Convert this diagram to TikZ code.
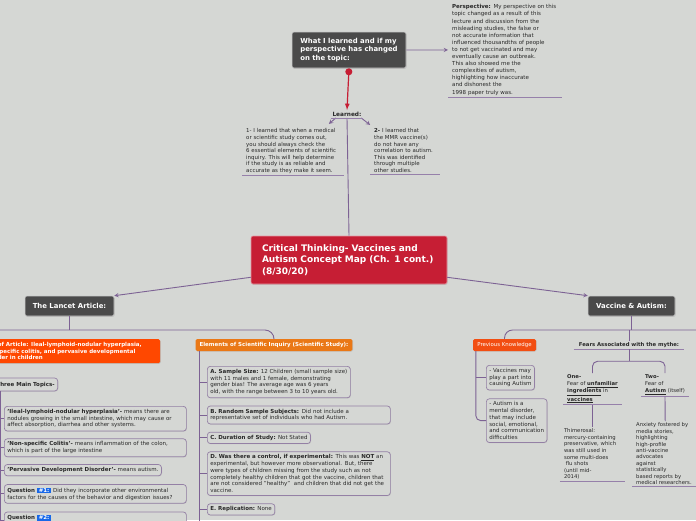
\documentclass[tikz,border=0pt]{standalone}
\usepackage{fontspec}
\setmainfont{DejaVu Sans}
\usetikzlibrary{shapes.geometric, arrows, positioning, shadows, calc}
\definecolor{bgcolor}{RGB}{213,215,212}
\definecolor{linecolor}{RGB}{125,98,148}
\definecolor{ulinecolor}{RGB}{150,128,170}
\definecolor{rootcolor}{RGB}{198,30,52}
\definecolor{topiccolor}{RGB}{74,74,74}
\definecolor{titlecolor}{RGB}{255,72,0}
\definecolor{elemcolor}{RGB}{234,120,22}
\definecolor{prevcolor}{RGB}{242,78,18}
\definecolor{boxborder}{RGB}{148,128,165}
\definecolor{badgecolor}{RGB}{24,104,232}
\definecolor{textcolor}{RGB}{40,40,40}
\newcommand{\qbadge}[1]{{\setlength{\fboxsep}{0.9pt}\colorbox{badgecolor}{\textcolor{white}{\bfseries\,#1\,}}}}

\begin{document}
\begin{tikzpicture}[
    x=1pt, y=-1pt,
    root/.style={rectangle, draw=white!55!rootcolor, line width=0.6pt, fill=rootcolor, rounded corners=2pt, text=white, align=left, font=\bfseries\fontsize{9}{11.5}\selectfont, text width=174pt, inner xsep=11pt, minimum height=48pt, drop shadow={shadow xshift=0.6pt, shadow yshift=-0.8pt, opacity=0.3}},
    topic/.style={rectangle, draw=white!80!black, line width=0.6pt, fill=topiccolor, rounded corners=2pt, text=white, align=left, font=\bfseries\fontsize{6.9}{8.5}\selectfont, drop shadow={shadow xshift=0.6pt, shadow yshift=-0.8pt, opacity=0.3}},
    subtopic/.style={rectangle, rounded corners=1.5pt, text=white, align=left, inner xsep=4pt, inner ysep=2pt, font=\bfseries\fontsize{5.5}{6.6}\selectfont, drop shadow={shadow xshift=0.6pt, shadow yshift=-0.6pt, opacity=0.25}},
    leaf/.style={rectangle, draw=boxborder, line width=0.7pt, fill=bgcolor, rounded corners=3pt, text=textcolor, align=left, inner xsep=3pt, inner ysep=3pt, font=\fontsize{5.5}{6.7}\selectfont, drop shadow={shadow xshift=0.6pt, shadow yshift=-0.6pt, opacity=0.25}},
    note/.style={text=textcolor, align=left, inner xsep=4pt, inner ysep=1.5pt, font=\fontsize{5.45}{6.6}\selectfont},
    link/.style={draw=linecolor, line width=0.9pt},
    arrow/.style={link, ->, >=stealth},
    uline/.style={draw=ulinecolor, line width=0.8pt}
]
    \path[use as bounding box] (0,0) rectangle (696,520);
    \clip (0,0) rectangle (696,520);
    \fill[bgcolor] (0,0) rectangle (696,520);

    % Central topic
    \node[root] (root) at (349,260) {Critical Thinking- Vaccines and\\Autism Concept Map (Ch. 1 cont.)\\(8/30/20)};

    % What I learned
    \node[topic, minimum width=114pt, minimum height=36pt] (learn) at (349,50) {What I learned and if my\\perspective has changed\\on the topic:};
    \node[note, anchor=north west, text width=106pt, font=\fontsize{5.5}{7.1}\selectfont] (persp) at (448,3) {
        \textbf{Perspective:} My perspective on this\\
        topic changed as a result of this\\
        lecture and discussion from the\\
        misleading studies, the false or\\
        not accurate information that\\
        influenced thousandths of people\\
        to not get vaccinated and may\\
        eventually cause an outbreak.\\
        This also showed me the\\
        complexities of autism,\\
        highlighting how inaccurate\\
        and dishonest the\\
        1998 paper truly was.};
    \node[note, font=\bfseries\fontsize{5.8}{6.5}\selectfont, inner xsep=1.5pt] (learned) at (347,114) {Learned:};
    \node[note, anchor=north west, text width=94pt] (lrnone) at (242,127) {
        1- I learned that when a medical\\
        or scientific study comes out,\\
        you should always check the\\
        6 essential elements of scientific\\
        inquiry. This will help determine\\
        if the study is as reliable and\\
        accurate as they make it seem.};
    \node[note, anchor=north west, text width=62pt] (lrntwo) at (370,127) {
        \textbf{2-} I learned that\\
        the MMR vaccine(s)\\
        do not have any\\
        correlation to autism.\\
        This was identified\\
        through multiple\\
        other studies.};

    \draw[draw=rootcolor, line width=1.2pt, *->, >=latex] (learn.south) -- (learned.north);
    \draw[arrow] (learn.east) -- (persp.west);
    \draw[link] (learned.south) -- (root.north);
    \draw[arrow] ([xshift=5pt]learned.south west) -- +(-7,6);
    \draw[arrow] ([xshift=-2pt]learned.south east) -- +(9,7);
    \draw[uline] (learned.south west) -- (learned.south east);
    \draw[uline] (persp.south west) -- (persp.south east);
    \draw[uline] (lrnone.south west) -- (lrnone.south east);
    \draw[uline] (lrntwo.south west) -- (lrntwo.south east);

    % Main branches
    \node[topic, minimum width=89pt, minimum height=20pt] (lancet) at (69.5,306) {The Lancet Article:};
    \node[topic, minimum width=87pt, minimum height=20pt] (vaccine) at (631.5,306) {Vaccine \& Autism:};
    \draw[arrow] ([yshift=7pt]root.south west) -- (lancet.north east);
    \draw[arrow] ([yshift=7pt]root.south east) -- (vaccine.north west);

    % The Lancet Article
    \coordinate (lbus) at (lancet.south |- 0,330);
    \coordinate (lbusw) at (-10,330);
    \node[subtopic, fill=titlecolor, anchor=north west, text width=173pt, inner xsep=5pt, minimum height=24pt] (title) at (-23,339) {Title of Article: Ileal-lymphoid-nodular hyperplasia,\\non-specific colitis, and pervasive developmental\\disorder in children};
    \node[subtopic, fill=elemcolor, minimum width=156pt, minimum height=12pt] (elements) at (274,345) {Elements of Scientific Inquiry (Scientific Study):};
    \draw[link] (lancet.south) -- (lbus);
    \draw[link, rounded corners=9pt] (lbusw) -- (lbus -| elements.north) -- (elements.north);

    \node[leaf, font=\bfseries\fontsize{5.5}{6.7}\selectfont, anchor=east, minimum height=13pt, inner ysep=2pt] (topics) at (58,384.5) {Three Main Topics-};
    \node[leaf, anchor=north west, text width=176pt] (ileal) at (4,406) {\textbf{'Ileal-lymphoid-nodular hyperplasia'-} means there are\\nodules growing in the small intestine, which may cause or\\affect absorption, diarrhea and other systems.};
    \node[leaf, below=7pt of ileal.south west, anchor=north west, text width=176pt] (colitis) {\textbf{'Non-specific Colitis'-} means inflammation of the colon,\\which is part of the large intestine};
    \node[leaf, below=7pt of colitis.south west, anchor=north west] (pdd) {\textbf{'Pervasive Development Disorder'-} means autism.};
    \node[leaf, below=8pt of pdd.south west, anchor=north west, text width=176pt] (qone) {\textbf{Question} \qbadge{\#1:} Did they incorporate other environmental\\factors for the causes of the behavior and digestion issues?};
    \node[leaf, below=8pt of qone.south west, anchor=north west, text width=176pt] (qtwo) {\textbf{Question} \qbadge{\#2:}\\ \ };
    \coordinate (tspine) at (0,391);
    \coordinate (tspineend) at (0,530);
    \draw[link] (tspine) -- (tspineend);
    \foreach \n in {ileal,colitis,pdd,qone,qtwo}
        \draw[link] (\n.west -| tspine) -- (\n.west);

    \node[leaf, anchor=north west] (sample) at (207,366) {\textbf{A. Sample Size:} 12 Children (small sample size)\\with 11 males and 1 female, demonstrating\\gender bias! The average age was 6 years\\old, with the range between 3 to 10 years old.};
    \node[leaf, below=7.5pt of sample.south west, anchor=north west, text width=177pt] (random) {\textbf{B. Random Sample Subjects:} Did not include a\\representative set of individuals who had Autism.};
    \node[leaf, below=7.5pt of random.south west, anchor=north west] (duration) {\textbf{C. Duration of Study:} Not Stated};
    \node[leaf, below=7.5pt of duration.south west, anchor=north west, text width=177pt] (control) {\textbf{D. Was there a control, if experimental:} This was \textbf{\underline{NOT}} an\\experimental, but however more observational. But, there\\were types of children missing from the study such as not\\completely healthy children that got the vaccine, children that\\are not considered "healthy"\ \ and children that did not get the\\vaccine.};
    \node[leaf, below=7.5pt of control.south west, anchor=north west] (replication) {\textbf{E. Replication:} None};
    \coordinate (espine) at ([xshift=4pt]elements.south west);
    \coordinate (espineend) at (espine |- 0,530);
    \draw[link] (espine) -- (espineend);
    \foreach \n in {sample,random,duration,control,replication}
        \draw[link] (\n.west -| espine) -- (\n.west);

    % Vaccine & Autism
    \coordinate (vbus) at (vaccine.south |- 0,330);
    \coordinate (vbuse) at (710,330);
    \node[subtopic, fill=prevcolor, font=\fontsize{5.4}{6.5}\selectfont, minimum width=63pt, minimum height=12pt] (prev) at (504.5,345) {Previous Knowledge};
    \node[note, font=\bfseries\fontsize{5.3}{6.5}\selectfont, inner xsep=5pt] (fears) at (629,345) {Fears Associated with the mythe:};
    \draw[link] (vaccine.south) -- (vbus);
    \draw[link, rounded corners=8pt] (prev.north) -- (prev.north |- vbus) -- (vbuse);
    \draw[link] (fears.north) -- (fears.north |- vbus);
    \draw[uline] (fears.south west) -- (fears.south east);

    \node[leaf, anchor=north west] (pkone) at (486,365) {- Vaccines may\\play a part into\\causing Autism};
    \node[leaf, below=8pt of pkone.south west, anchor=north west] (pktwo) {- Autism is a\\mental disorder,\\that may include\\social, emotional,\\and communication\\difficulties};
    \coordinate (pspine) at ([xshift=3pt]prev.south west);
    \draw[link, rounded corners=5pt] (pspine) |- (pktwo.west);
    \draw[link] (pkone.west -| pspine) -- (pkone.west);

    \coordinate (fbus) at ([yshift=-12pt]fears.south);
    \node[note, anchor=north, inner xsep=3.5pt, font=\fontsize{5.3}{7.1}\selectfont] (fearone) at (592.5,373) {\textbf{One-}\\Fear of \textbf{\underline{unfamiliar}}\\\textbf{\underline{ingredients}} in\\\textbf{\underline{vaccines}}};
    \node[note, anchor=north, font=\fontsize{5.3}{7}\selectfont] (feartwo) at (665,373) {\textbf{Two-}\\Fear of\\\textbf{\underline{Autism}} (itself)};
    \draw[link] (fears.south) -- (fbus);
    \draw[link, rounded corners=5pt] (fearone.north) |- (fbus) -| (feartwo.north);
    \draw[uline] (fearone.south west) -- (fearone.south east);
    \draw[uline] (feartwo.south west) -- (feartwo.south east);

    \node[note, anchor=north, text width=57pt, font=\fontsize{5.3}{6.6}\selectfont] (thimero) at (592.5,427) {Thimerosal:\\mercury-containing\\preservative, which\\was still used in\\some multi-does\\\ flu shots\\(until mid-\\2014)};
    \node[note, anchor=north west, text width=58pt, font=\fontsize{5.3}{6.45}\selectfont] (anxiety) at (632,421) {Anxiety fostered by\\media stories,\\highlighting\\high-profile\\anti-vaccine\\advocates\\against\\statistically\\based reports by\\medical researchers.};
    \draw[link] (fearone.south) -- (thimero.north);
    \draw[link] (feartwo.south) -- (anxiety.north);
    \draw[uline] (thimero.south west) -- (thimero.south east);
    \draw[uline] (anxiety.south west) -- (anxiety.south east);
\end{tikzpicture}
\end{document}
